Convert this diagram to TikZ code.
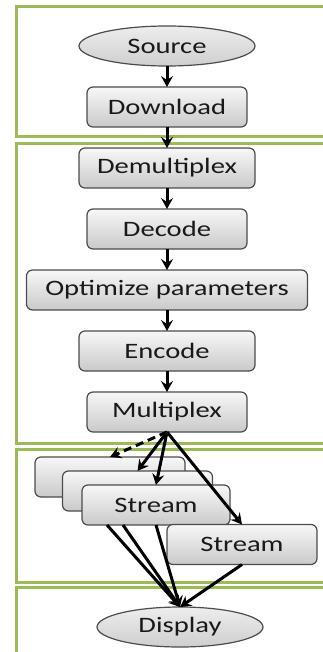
\documentclass[tikz,border=0pt]{standalone}
\usepackage{fontspec}
\setmainfont[FakeStretch=1.3]{Carlito}
\usepackage{xcolor}
\usepackage{tikz}
\usetikzlibrary{arrows.meta, positioning, shapes.geometric}
\definecolor{zonegreen}{RGB}{155,187,89}

\begin{document}
\begin{tikzpicture}[x=1pt, y=-1pt, >={Stealth[length=11pt, width=12pt, inset=4pt]}, node distance=21pt,
  box/.style={draw=black!70, line width=1.2pt, outer sep=0pt, rounded corners=6pt, top color=gray!6, bottom color=gray!42,
    minimum height=40pt, inner sep=0pt, text=black!90, font=\fontsize{22}{26}\selectfont},
  term/.style={ellipse, draw=black!70, line width=1.2pt, outer sep=0pt, top color=gray!14, bottom color=gray!38,
    minimum height=40pt, inner sep=0pt, text=black!90, font=\fontsize{22}{26}\selectfont},
  flow/.style={->, line width=3pt},
  zone/.style={draw=zonegreen, line width=3pt}]
\useasboundingbox (0,0) rectangle (323,652);
% Zonas
\draw[zone] (16,7) rectangle (345,137);
\draw[zone] (16,144) rectangle (345,443);
\draw[zone] (16,449) rectangle (345,582);
\draw[zone] (16,587) rectangle (345,680);
% Etapas
\node[term, minimum width=176pt] (src) at (167,46) {Source};
\node[box, minimum width=160pt, below=of src] (dl) {Download};
\node[box, minimum width=176pt, below=of dl] (demux) {Demultiplex};
\node[box, minimum width=160pt, below=of demux] (dec) {Decode};
\node[box, minimum width=281pt, below=of dec] (opt) {Optimize parameters};
\node[box, minimum width=176pt, below=of opt] (enc) {Encode};
\node[box, minimum width=160pt, below=of enc] (mux) {Multiplex};
% Flujos
\node[box, minimum width=150pt] (s1) at (110,477) {};
\node[box, minimum width=150pt] (s2) at (137.5,491) {};
\node[box, minimum width=148pt] (s3) at (156,505) {Stream};
\node[box, minimum width=150pt] (s4) at (242,544.5) {Stream};
\node[term, minimum width=166pt] (disp) at (180,627) {Display};
% Conexiones
\path[flow]
(src) edge (dl)
(dl) edge (demux)
(demux) edge (dec)
(dec) edge (opt)
(opt) edge (enc)
(enc) edge (mux)
(mux.south) edge[dash pattern=on 8pt off 5pt] (s1.north)
(mux.south) edge (s2.north)
(mux.south) edge (s3.north)
(mux.south) edge (s4.north)
([xshift=25pt]s3.south west) edge (disp.north)
([xshift=41pt]s3.south west) edge (disp.north)
(s3.south) edge (disp.north)
(s4.south) edge (disp.north);
\end{tikzpicture}
\end{document}
